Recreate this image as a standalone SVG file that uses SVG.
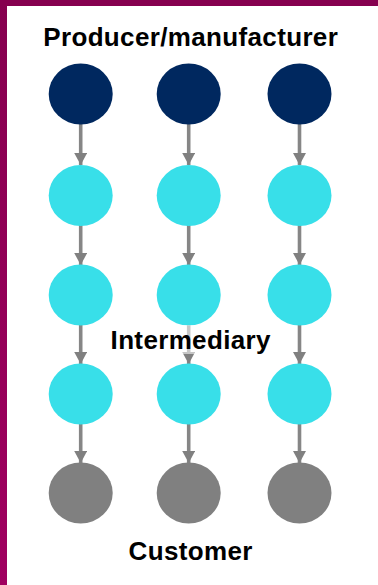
<svg xmlns="http://www.w3.org/2000/svg" width="378" height="585" viewBox="0 0 378 585">
<defs>
<linearGradient id="edge" x1="0" y1="0" x2="0" y2="1"><stop offset="0" stop-color="#86004f"/><stop offset="1" stop-color="#a00060"/></linearGradient>
<marker id="arrow" markerUnits="userSpaceOnUse" markerWidth="13" markerHeight="13" refX="12" refY="6.5" orient="auto"><path d="M0 0L12 6.5L0 13Z" fill="#808080"/></marker>
</defs>
<style>
.producer{fill:#00285f}.middle{fill:#38dfe9}.customer{fill:#808080}
.c{stroke:#868686;stroke-width:3.6;fill:none;marker-end:url(#arrow)}
.t{font-family:"Liberation Sans",Arial,sans-serif;font-weight:700;font-size:26px;letter-spacing:.35px;fill:#000;text-anchor:middle}
</style>
<rect width="378" height="585" fill="#fff"/>
<rect id="frame-left" width="7" height="585" fill="url(#edge)"/>
<rect id="frame-top" width="378" height="6" fill="#86004f"/>
<g id="connectors">
<path class="c" d="M80.7 124V165"/><path class="c" d="M80.7 225V265"/><path class="c" d="M80.7 325V364"/><path class="c" d="M80.7 424V463"/>
<path class="c" d="M188.7 124V165"/><path class="c" d="M188.7 225V265"/><path class="c" d="M188.7 325V364"/><path class="c" d="M188.7 424V463"/>
<path class="c" d="M299.5 124V165"/><path class="c" d="M299.5 225V265"/><path class="c" d="M299.5 325V364"/><path class="c" d="M299.5 424V463"/>
</g>
<g id="n1a"><ellipse class="producer" cx="80.7" cy="94" rx="32" ry="30.5"/></g>
<g id="n1b"><ellipse class="producer" cx="188.7" cy="94" rx="32" ry="30.5"/></g>
<g id="n1c"><ellipse class="producer" cx="299.5" cy="94" rx="32" ry="30.5"/></g>
<g id="n2a"><ellipse class="middle" cx="80.7" cy="195.5" rx="32" ry="30.5"/></g>
<g id="n2b"><ellipse class="middle" cx="188.7" cy="195.5" rx="32" ry="30.5"/></g>
<g id="n2c"><ellipse class="middle" cx="299.5" cy="195.5" rx="32" ry="30.5"/></g>
<g id="n3a"><ellipse class="middle" cx="80.7" cy="295" rx="32" ry="30.5"/></g>
<g id="n3b"><ellipse class="middle" cx="188.7" cy="295" rx="32" ry="30.5"/></g>
<g id="n3c"><ellipse class="middle" cx="299.5" cy="295" rx="32" ry="30.5"/></g>
<g id="n4a"><ellipse class="middle" cx="80.7" cy="394" rx="32" ry="30.5"/></g>
<g id="n4b"><ellipse class="middle" cx="188.7" cy="394" rx="32" ry="30.5"/></g>
<g id="n4c"><ellipse class="middle" cx="299.5" cy="394" rx="32" ry="30.5"/></g>
<g id="n5a"><ellipse class="customer" cx="80.7" cy="493" rx="32" ry="30.5"/></g>
<g id="n5b"><ellipse class="customer" cx="188.7" cy="493" rx="32" ry="30.5"/></g>
<g id="n5c"><ellipse class="customer" cx="299.5" cy="493" rx="32" ry="30.5"/></g>
<rect x="110" y="325" width="160" height="29" fill="#fff" fill-opacity="0.55"/>
<text class="t" x="190.7" y="46">Producer/manufacturer</text>
<text class="t" x="190.7" y="349">Intermediary</text>
<text class="t" x="190.7" y="560">Customer</text>
</svg>
